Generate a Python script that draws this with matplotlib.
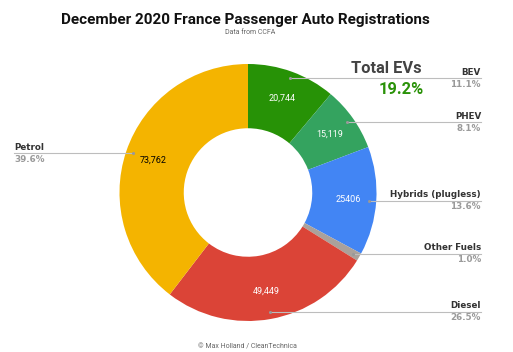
import numpy as np
import matplotlib
matplotlib.use("Agg")
from matplotlib import pyplot as plt

# December 2020 France registrations (CCFA)
categories = ["BEV", "PHEV", "Hybrids (plugless)", "Other Fuels", "Diesel", "Petrol"]
registrations = [20744, 15119, 25406, 1865, 49449, 73762]
value_labels = ["20,744", "15,119", "25406", "", "49,449", "73,762"]
pct_labels = ["11.1%", "8.1%", "13.6%", "1.0%", "26.5%", "39.6%"]
total_ev_pct = "19.2%"

colors = ["#279206", "#34a35f", "#4285f4", "#aaa19b", "#db4437", "#f4b400"]
value_colors = ["white", "white", "white", "white", "white", "black"]

W, H = 513, 352
fig = plt.figure(figsize=(W / 100, H / 100), dpi=100)
ax = fig.add_axes([0, 0, 1, 1])

cx, cy, R = 248, H - 192.5, 128.5
wedges, _ = ax.pie(registrations, colors=colors, startangle=90, counterclock=False,
                   center=(cx, cy), radius=R, wedgeprops=dict(width=R * 0.5, linewidth=0))
ax.set_xlim(0, W)
ax.set_ylim(0, H)
ax.set_aspect("equal")
ax.axis("off")

name_font = dict(family="DejaVu Sans", weight="bold", fontsize=6.3)

for w, cat, val, pct, vc in zip(wedges, categories, value_labels, pct_labels, value_colors):
    mid = np.deg2rad((w.theta1 + w.theta2) / 2)
    if val:
        ax.text(cx + 0.78 * R * np.cos(mid), cy + 0.78 * R * np.sin(mid), val,
                ha="center", va="center", fontsize=6.5, color=vc, family="Roboto")
    r_dot = 0.945 * R
    dx, dy = cx + r_dot * np.cos(mid), cy + r_dot * np.sin(mid)
    if np.cos(mid) >= 0:
        x_end, ha = 481, "right"
    else:
        x_end, ha = 14, "left"
    ax.plot([dx, x_end], [dy, dy], color="#bdbdbd", lw=0.8, zorder=3)
    ax.plot([dx], [dy], marker="o", ms=1.2, color="#999999", zorder=4)
    ax.text(x_end, dy + 1.5, cat, ha=ha, va="bottom", color="#333333", **name_font)
    ax.text(x_end, dy - 1.5, pct, ha=ha, va="top", color="#9a9a9a", **name_font)

ax.text(245, H - 24, "December 2020 France Passenger Auto Registrations", ha="center",
        va="baseline", fontsize=11.0, weight="bold", family="Roboto", color="#111111")
ax.text(250, H - 33, "Data from CCFA", ha="center", va="center", fontsize=5,
        family="Roboto", color="#666666")
ax.text(386, H - 73, "Total EVs", ha="center", va="baseline", fontsize=11.8,
        weight="bold", family="Roboto", color="#434343")
ax.text(424, H - 94, total_ev_pct, ha="right", va="baseline", fontsize=11.8,
        weight="bold", family="Roboto", color="#2a9208")
ax.text(247, H - 347, "\u00a9 Max Holland / CleanTechnica", ha="center", va="center",
        fontsize=5, family="Roboto", color="#666666")

fig.savefig("out.png", dpi=100)
